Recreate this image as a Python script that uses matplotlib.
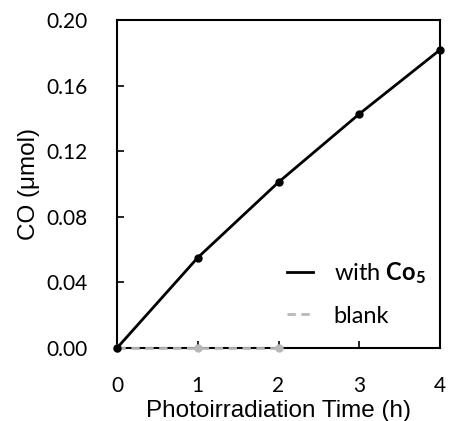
import matplotlib
matplotlib.use('Agg')
from matplotlib import pyplot as plt
from matplotlib.lines import Line2D

# data
time_h = [0, 1, 2, 3, 4]
co_with = [0.0, 0.0551, 0.1011, 0.1427, 0.1818]
time_blank = [0, 1, 2]
co_blank = [0.0, 0.0, 0.0]
x_ticks = [0, 1, 2, 3, 4]
y_ticks = [0.00, 0.04, 0.08, 0.12, 0.16, 0.20]

plt.rcParams['mathtext.fontset'] = 'custom'
plt.rcParams['mathtext.rm'] = 'Lato'
plt.rcParams['mathtext.bf'] = 'Lato:bold'

fig = plt.figure(figsize=(4.49, 4.21), dpi=100)
ax = fig.add_axes([0.2606, 0.1734, 0.7194, 0.7791])

ax.plot(time_h, co_with, '-o', color='black', lw=2, markersize=5,
        clip_on=False, zorder=5)
ax.plot(time_blank, co_blank, '--o', color='#b8b8b8', lw=2, markersize=5,
        dashes=(3, 2), clip_on=False, zorder=4)

ax.set_xlim(0, 4)
ax.set_ylim(0, 0.20)
ax.set_xticks(x_ticks)
ax.set_yticks(y_ticks)
ax.set_xticklabels([str(t) for t in x_ticks], family='Lato', fontsize=15)
ax.set_yticklabels(['%.2f' % v for v in y_ticks], family='Lato', fontsize=15)
ax.tick_params(direction='in', length=5, width=1.2)
ax.tick_params(axis='x', pad=20)
ax.tick_params(axis='y', pad=21)
for s in ax.spines.values():
    s.set_linewidth(1.5)

ax.set_xlabel('Photoirradiation Time (h)', family='Liberation Sans', fontsize=17.5, labelpad=3)
ax.set_ylabel('CO (μmol)', family='Liberation Sans', fontsize=17.5, labelpad=5)

handles = [Line2D([], [], color='black', lw=2),
           Line2D([], [], color='#b8b8b8', lw=2, ls='--', dashes=(3, 2))]
ax.legend(handles, [r'with $\mathbf{Co_5}$', 'blank'],
          loc='lower right', bbox_to_anchor=(1.022, 0.0), frameon=False,
          prop={'family': 'Lato', 'size': 17}, handlelength=1.1,
          handletextpad=0.9, labelspacing=0.85)

fig.savefig('out.png', dpi=100)
